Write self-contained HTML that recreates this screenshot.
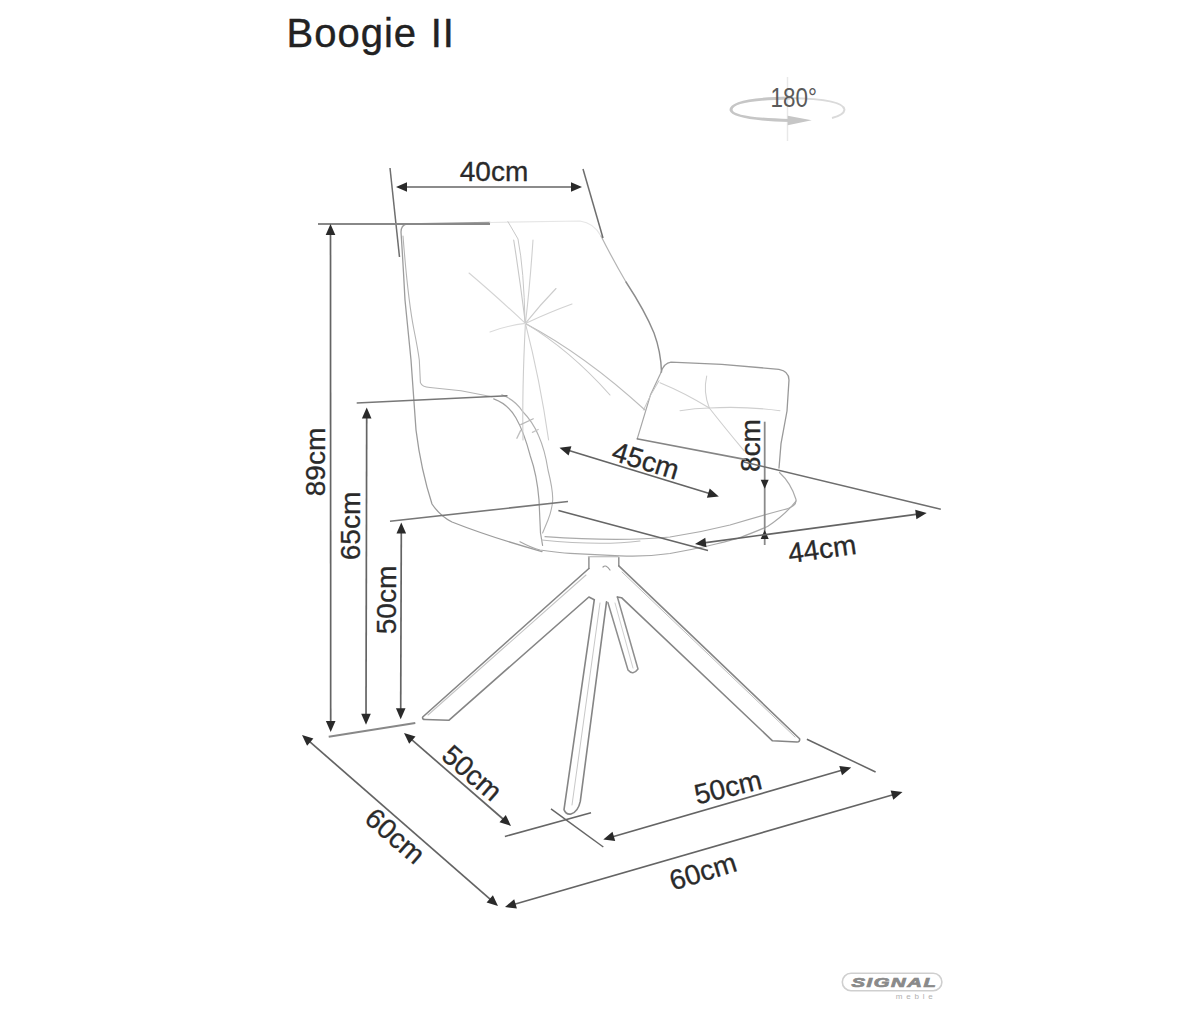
<!DOCTYPE html>
<html><head><meta charset="utf-8"><style>
html,body{margin:0;padding:0;background:#fff;}
body{width:1200px;height:1031px;overflow:hidden;position:relative;font-family:"Liberation Sans",sans-serif;}
svg{position:absolute;left:0;top:0;}
text{font-family:"Liberation Sans",sans-serif;}
</style></head><body>
<svg width="1200" height="1031" viewBox="0 0 1200 1031">
<text x="286.5" y="47" font-size="40" fill="#222" stroke="#222" stroke-width="0.4" letter-spacing="1" word-spacing="1.5">Boogie II</text>
<path d="M490,222.5 L407,223.8 Q401,225 401,232 Q403,262 405,300 L411,360 Q414,400 416,430 Q421,470 432,504 Q440,516 452,522 Q490,537 542,551.6" fill="none" stroke="#9c9c9c" stroke-width="1.3" stroke-linecap="round" stroke-linejoin="round" />
<path d="M490,222.5 L580,221 Q594,223 601,236" fill="none" stroke="#e6e6e6" stroke-width="1.2" stroke-linecap="round" stroke-linejoin="round" />
<path d="M601,236 Q612,258 626,282" fill="none" stroke="#b4b4b4" stroke-width="1.2" stroke-linecap="round" stroke-linejoin="round" />
<path d="M626,282 Q645,311 654,333 Q661,352 661.5,372" fill="none" stroke="#8c8c8c" stroke-width="1.4" stroke-linecap="round" stroke-linejoin="round" />
<path d="M403,236 Q408,300 414,330 Q418,350 419.3,360 L420.4,382.6 Q422,387 430,387.5 L461,390.7 L492,396.8" fill="none" stroke="#b4b4b4" stroke-width="1.1" stroke-linecap="round" stroke-linejoin="round" />
<path d="M493.7,398.9 Q508,404 516,418 Q524,432 530.3,456 Q537,475 539,500 L540.5,533 L542.6,545.5" fill="none" stroke="#a0a0a0" stroke-width="1.2" stroke-linecap="round" stroke-linejoin="round" />
<path d="M501.8,394.8 Q515,400 522.2,411 Q533,422 538.5,435.5 Q545,450 548,470 Q553,490 552.7,500 Q552,510 548,520 L542.6,533" fill="none" stroke="#b0b0b0" stroke-width="1.1" stroke-linecap="round" stroke-linejoin="round" />
<path d="M525.4,323.4 Q495,295 469,273" fill="none" stroke="#d4d4d4" stroke-width="1.1" stroke-linecap="round" stroke-linejoin="round" />
<path d="M525.4,323.4 Q520,280 513.7,240" fill="none" stroke="#c8c8c8" stroke-width="1.1" stroke-linecap="round" stroke-linejoin="round" />
<path d="M525.4,323.4 Q530,285 533,240" fill="none" stroke="#d0d0d0" stroke-width="1.1" stroke-linecap="round" stroke-linejoin="round" />
<path d="M525.4,323.4 Q540,305 556,288.5" fill="none" stroke="#cccccc" stroke-width="1.1" stroke-linecap="round" stroke-linejoin="round" />
<path d="M525.4,323.4 Q550,312 572,304" fill="none" stroke="#d2d2d2" stroke-width="1.1" stroke-linecap="round" stroke-linejoin="round" />
<path d="M525.4,323.4 Q585,355 645,410" fill="none" stroke="#bcbcbc" stroke-width="1.1" stroke-linecap="round" stroke-linejoin="round" />
<path d="M525.4,323.4 Q570,350 610,395" fill="none" stroke="#c8c8c8" stroke-width="1.1" stroke-linecap="round" stroke-linejoin="round" />
<path d="M525.4,323.4 Q522,390 523,440" fill="none" stroke="#cdcdcd" stroke-width="1.1" stroke-linecap="round" stroke-linejoin="round" />
<path d="M525.4,323.4 Q540,380 548.6,440" fill="none" stroke="#d0d0d0" stroke-width="1.1" stroke-linecap="round" stroke-linejoin="round" />
<path d="M525.4,323.4 Q505,326 490,332" fill="none" stroke="#dadada" stroke-width="1.1" stroke-linecap="round" stroke-linejoin="round" />
<path d="M507.9,221.6 Q514,232 518,239 Q524,270 525,322" fill="none" stroke="#c8c8c8" stroke-width="1.0" stroke-linecap="round" stroke-linejoin="round" />
<path d="M661,372.4 Q664,363 671,362.2 L721.8,364.3 L778.9,369.3 Q789,371 789,380 L787,411 L781,443.7 L779,468" fill="none" stroke="#999" stroke-width="1.3" stroke-linecap="round" stroke-linejoin="round" />
<path d="M661,372.4 Q656,383 650.5,394.8 L637.3,438.6" fill="none" stroke="#a6a6a6" stroke-width="1.2" stroke-linecap="round" stroke-linejoin="round" />
<path d="M659,380.7 Q650,395 643.5,410" fill="none" stroke="#c4c4c4" stroke-width="1.0" stroke-linecap="round" stroke-linejoin="round" />
<path d="M709.3,408 Q685,393 660,382.7" fill="none" stroke="#cfcfcf" stroke-width="1.1" stroke-linecap="round" stroke-linejoin="round" />
<path d="M709.3,408 Q703,392 706.7,376" fill="none" stroke="#cfcfcf" stroke-width="1.1" stroke-linecap="round" stroke-linejoin="round" />
<path d="M709.3,408 Q695,408 680,410.7" fill="none" stroke="#cfcfcf" stroke-width="1.1" stroke-linecap="round" stroke-linejoin="round" />
<path d="M709.3,408 Q725,428 744,450.7" fill="none" stroke="#cfcfcf" stroke-width="1.1" stroke-linecap="round" stroke-linejoin="round" />
<path d="M709.3,408 Q745,406 780,410.7" fill="none" stroke="#cfcfcf" stroke-width="1.1" stroke-linecap="round" stroke-linejoin="round" />
<path d="M520.7,424.6 L533.3,418.8" fill="none" stroke="#b8b8b8" stroke-width="1.2" stroke-linecap="round" stroke-linejoin="round" />
<path d="M516.9,438.2 L520.7,430.4" fill="none" stroke="#c0c0c0" stroke-width="1.4" stroke-linecap="round" stroke-linejoin="round" />
<path d="M532.4,432.4 L538.2,429.5" fill="none" stroke="#c4c4c4" stroke-width="1.2" stroke-linecap="round" stroke-linejoin="round" />
<path d="M779.5,472.5 Q791,483 796,499.5 Q797,507 782.5,510 Q760,516 730,525 Q700,532.5 670,537 Q620,542 545,536.7" fill="none" stroke="#ababab" stroke-width="1.2" stroke-linecap="round" stroke-linejoin="round" />
<path d="M640,541 Q600,546 541.7,540" fill="none" stroke="#bdbdbd" stroke-width="1.1" stroke-linecap="round" stroke-linejoin="round" />
<path d="M520,541.7 Q532,548 540,550 Q560,553 570,553.3 L620,555.8 Q645,557 670,553.5 Q690,550 707.5,546 Q725,542 737.5,538.5 Q755,532 767.5,526.5 Q785,515 796,501" fill="none" stroke="#a8a8a8" stroke-width="1.2" stroke-linecap="round" stroke-linejoin="round" />
<path d="M588.9,557.6 L588.9,568.5" fill="none" stroke="#8a8a8a" stroke-width="1.4" stroke-linecap="round" stroke-linejoin="round" />
<path d="M618.8,557.6 L618.8,565.8" fill="none" stroke="#8a8a8a" stroke-width="1.4" stroke-linecap="round" stroke-linejoin="round" />
<path d="M588.3,556.7 L618.3,556.7" fill="none" stroke="#b0b0b0" stroke-width="1.1" stroke-linecap="round" stroke-linejoin="round" />
<path d="M588.9,568.5 L422.7,717 Q422,719.5 425,719.5 L448.8,720.3 L588.9,597 L594.3,599.7" fill="none" stroke="#858585" stroke-width="1.6" stroke-linecap="round" stroke-linejoin="round" />
<path d="M594.3,599.7 L564,809.6 Q566,815 571,814 Q578,812 580.3,801.4 L606.5,601.8" fill="none" stroke="#858585" stroke-width="1.6" stroke-linecap="round" stroke-linejoin="round" />
<path d="M600,603 L572,805" fill="none" stroke="#c8c8c8" stroke-width="1.0" stroke-linecap="round" stroke-linejoin="round" />
<path d="M607.9,602.5 L628,670 Q633,676 638,669 L617.4,597" fill="none" stroke="#8e8e8e" stroke-width="1.5" stroke-linecap="round" stroke-linejoin="round" />
<path d="M615,603 L633,668" fill="none" stroke="#d0d0d0" stroke-width="1.0" stroke-linecap="round" stroke-linejoin="round" />
<path d="M586,575 L428,715" fill="none" stroke="#c4c4c4" stroke-width="1.1" stroke-linecap="round" stroke-linejoin="round" />
<path d="M618.8,565.8 L799.6,738.75 Q800,742 797,742 L772.5,740.8 L621.5,597.7 L617.4,597" fill="none" stroke="#858585" stroke-width="1.6" stroke-linecap="round" stroke-linejoin="round" />
<path d="M622,572 L795,737" fill="none" stroke="#c0c0c0" stroke-width="1.0" stroke-linecap="round" stroke-linejoin="round" />
<path d="M603,567 Q606,564 610,570" fill="none" stroke="#999" stroke-width="1.2" stroke-linecap="round" stroke-linejoin="round" />
<line x1="787.5" y1="77" x2="787.5" y2="141" stroke="#e8e8e8" stroke-width="1.5"/>
<path d="M790,98 Q731,99 731,110 Q733,119 790,120.5" fill="none" stroke="#c6c6c6" stroke-width="3"/>
<path d="M790,98 Q844,99 844.5,109.7 Q844,115 832,118" fill="none" stroke="#dadada" stroke-width="2"/>
<polygon points="811.7,120.3 787.7,115.8 787.7,125.2" fill="#c6c6c6"/>
<text x="0" y="0" font-size="27.5" fill="#5a5a5a" transform="translate(770.5,107.3) scale(0.815,1)">180°</text>
<rect x="842.3" y="973.3" width="99.6" height="17.4" rx="8.7" fill="none" stroke="#cfcfcf" stroke-width="1.6"/>
<text x="0" y="0" font-size="12.8" font-weight="bold" font-style="italic" fill="#8a8a8a" stroke="#8a8a8a" stroke-width="0.7" letter-spacing="1.0" transform="translate(851.5,986.8) scale(1.58,1)">SIGNAL</text>
<text x="895.8" y="998.8" font-size="8" fill="#b0b0b0" letter-spacing="3.8">meble</text>
<line x1="390.0" y1="168.0" x2="399.5" y2="257.0" stroke="#6e6e6e" stroke-width="1.5"/>
<line x1="583.0" y1="169.0" x2="603.0" y2="238.0" stroke="#6e6e6e" stroke-width="1.5"/>
<line x1="405.0" y1="187.0" x2="573.0" y2="187.0" stroke="#646464" stroke-width="1.7"/>
<polygon points="396.0,187.0 407.0,182.2 407.0,191.8" fill="#2a2a2a"/>
<polygon points="582.0,187.0 571.0,191.8 571.0,182.2" fill="#2a2a2a"/>
<text x="494.0" y="171.0" font-size="28" fill="#2a2a2a" text-anchor="middle" dominant-baseline="central" transform="rotate(0 494.0 171.0)" stroke="#2a2a2a" stroke-width="0.3">40cm</text>
<line x1="318.0" y1="224.0" x2="490.0" y2="224.0" stroke="#888" stroke-width="2.2"/>
<line x1="330.5" y1="233.0" x2="330.7" y2="723.0" stroke="#646464" stroke-width="1.7"/>
<polygon points="330.5,224.0 335.3,235.0 325.7,235.0" fill="#2a2a2a"/>
<polygon points="330.7,732.0 325.9,721.0 335.5,721.0" fill="#2a2a2a"/>
<text x="315.0" y="462.0" font-size="28" fill="#2a2a2a" text-anchor="middle" dominant-baseline="central" transform="rotate(-90 315.0 462.0)" stroke="#2a2a2a" stroke-width="0.3">89cm</text>
<line x1="356.7" y1="403.0" x2="507.5" y2="395.8" stroke="#777" stroke-width="1.6"/>
<line x1="366.7" y1="416.5" x2="366.0" y2="715.7" stroke="#646464" stroke-width="1.7"/>
<polygon points="366.7,407.5 371.5,418.5 361.9,418.5" fill="#2a2a2a"/>
<polygon points="366.0,724.7 361.2,713.7 370.8,713.7" fill="#2a2a2a"/>
<text x="350.0" y="526.0" font-size="28" fill="#2a2a2a" text-anchor="middle" dominant-baseline="central" transform="rotate(-90 350.0 526.0)" stroke="#2a2a2a" stroke-width="0.3">65cm</text>
<line x1="390.0" y1="521.3" x2="568.0" y2="501.5" stroke="#777" stroke-width="1.6"/>
<line x1="401.3" y1="531.5" x2="400.7" y2="710.3" stroke="#646464" stroke-width="1.7"/>
<polygon points="401.3,522.5 406.1,533.5 396.5,533.5" fill="#2a2a2a"/>
<polygon points="400.7,719.3 395.9,708.3 405.5,708.3" fill="#2a2a2a"/>
<text x="386.5" y="600.0" font-size="28" fill="#2a2a2a" text-anchor="middle" dominant-baseline="central" transform="rotate(-90 386.5 600.0)" stroke="#2a2a2a" stroke-width="0.3">50cm</text>
<line x1="328.7" y1="736.7" x2="415.3" y2="723.0" stroke="#888" stroke-width="2"/>
<line x1="568.1" y1="450.3" x2="710.2" y2="493.8" stroke="#646464" stroke-width="1.7"/>
<polygon points="559.5,447.7 571.4,446.3 568.6,455.5" fill="#2a2a2a"/>
<polygon points="718.8,496.4 706.9,497.8 709.7,488.6" fill="#2a2a2a"/>
<text x="645.7" y="460.8" font-size="28" fill="#2a2a2a" text-anchor="middle" dominant-baseline="central" transform="rotate(17 645.7 460.8)" stroke="#2a2a2a" stroke-width="0.3">45cm</text>
<line x1="764.7" y1="421.7" x2="764.7" y2="545.0" stroke="#8a8a8a" stroke-width="1.8"/>
<polygon points="764.7,488.8 760.7,479.8 768.7,479.8" fill="#2a2a2a"/>
<polygon points="764.7,530.0 768.7,539.0 760.7,539.0" fill="#2a2a2a"/>
<text x="750.8" y="445.5" font-size="28" fill="#2a2a2a" text-anchor="middle" dominant-baseline="central" transform="rotate(-90 750.8 445.5)" stroke="#2a2a2a" stroke-width="0.3">8cm</text>
<line x1="558.4" y1="510.5" x2="708.0" y2="550.6" stroke="#666" stroke-width="1.6"/>
<line x1="636.7" y1="438.8" x2="746.0" y2="459.6" stroke="#858585" stroke-width="1.6"/>
<line x1="744.0" y1="462.0" x2="940.8" y2="509.2" stroke="#6e6e6e" stroke-width="1.5"/>
<line x1="703.9" y1="542.8" x2="917.8" y2="514.2" stroke="#646464" stroke-width="1.7"/>
<polygon points="695.0,544.0 705.3,537.8 706.5,547.3" fill="#2a2a2a"/>
<polygon points="926.7,513.0 916.4,519.2 915.2,509.7" fill="#2a2a2a"/>
<text x="822.0" y="549.0" font-size="28" fill="#2a2a2a" text-anchor="middle" dominant-baseline="central" transform="rotate(-8 822.0 549.0)" stroke="#2a2a2a" stroke-width="0.3">44cm</text>
<line x1="308.8" y1="740.9" x2="491.2" y2="900.1" stroke="#646464" stroke-width="1.7"/>
<polygon points="302.0,735.0 313.4,738.6 307.1,745.8" fill="#2a2a2a"/>
<polygon points="498.0,906.0 486.6,902.4 492.9,895.2" fill="#2a2a2a"/>
<text x="395.0" y="836.0" font-size="28" fill="#2a2a2a" text-anchor="middle" dominant-baseline="central" transform="rotate(41 395.0 836.0)" stroke="#2a2a2a" stroke-width="0.3">60cm</text>
<line x1="410.8" y1="738.9" x2="504.2" y2="820.0" stroke="#646464" stroke-width="1.7"/>
<polygon points="404.0,733.0 415.5,736.6 409.2,743.8" fill="#2a2a2a"/>
<polygon points="511.0,825.9 499.5,822.3 505.8,815.1" fill="#2a2a2a"/>
<text x="472.0" y="773.0" font-size="28" fill="#2a2a2a" text-anchor="middle" dominant-baseline="central" transform="rotate(41 472.0 773.0)" stroke="#2a2a2a" stroke-width="0.3">50cm</text>
<line x1="504.9" y1="836.5" x2="591.0" y2="812.7" stroke="#666" stroke-width="1.5"/>
<line x1="551.0" y1="808.9" x2="603.3" y2="847.0" stroke="#666" stroke-width="1.5"/>
<line x1="806.9" y1="739.2" x2="875.6" y2="772.0" stroke="#666" stroke-width="1.5"/>
<line x1="611.9" y1="837.0" x2="842.6" y2="770.0" stroke="#646464" stroke-width="1.7"/>
<polygon points="603.3,839.5 612.5,831.8 615.2,841.0" fill="#2a2a2a"/>
<polygon points="851.2,767.5 842.0,775.2 839.3,766.0" fill="#2a2a2a"/>
<text x="728.0" y="787.3" font-size="28" fill="#2a2a2a" text-anchor="middle" dominant-baseline="central" transform="rotate(-13.5 728.0 787.3)" stroke="#2a2a2a" stroke-width="0.3">50cm</text>
<line x1="513.6" y1="904.5" x2="893.9" y2="794.5" stroke="#646464" stroke-width="1.7"/>
<polygon points="505.0,907.0 514.2,899.3 516.9,908.6" fill="#2a2a2a"/>
<polygon points="902.5,792.0 893.3,799.7 890.6,790.4" fill="#2a2a2a"/>
<text x="703.0" y="871.6" font-size="28" fill="#2a2a2a" text-anchor="middle" dominant-baseline="central" transform="rotate(-17.2 703.0 871.6)" stroke="#2a2a2a" stroke-width="0.3">60cm</text>
</svg>
</body></html>
